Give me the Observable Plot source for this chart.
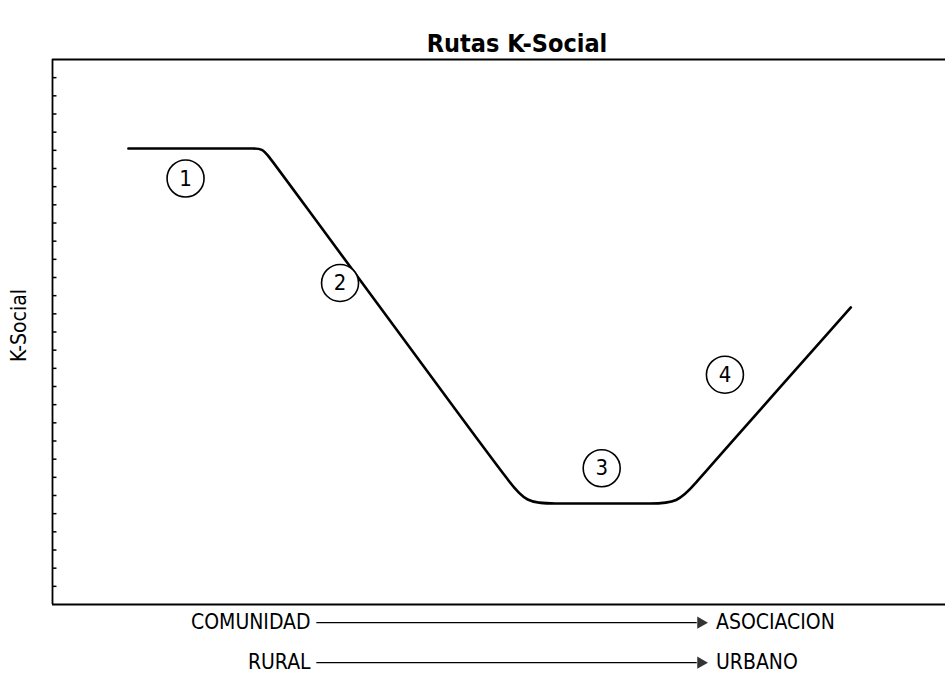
<!DOCTYPE html>
<html>
<head>
<meta charset="utf-8">
<script src="https://cdn.jsdelivr.net/npm/d3@7"></script>
<script src="https://cdn.jsdelivr.net/npm/@observablehq/plot@0.6"></script>
<style>
  html, body { margin: 0; padding: 0; background: #fff; }
  #chart svg { display: block; }
</style>
</head>
<body>
<div id="chart"></div>
<script>
// ---- data ----
const title = "Rutas K-Social";
const yLabel = "K-Social";
// control points of the K-Social route (x: 0–100 along the axis, y: 0–30 K-Social units)
const routeX = [8.5, 21.3, 22.4, 23.5, 24.2, 24.9, 48.9, 51.0, 53.0, 56.3, 59.7, 63.7, 66.9, 70.0, 72.1, 74.1, 89.4];
const routeY = [25.1, 25.1, 25.1, 25.1, 24.67, 24.23, 8.2, 6.88, 5.56, 5.56, 5.56, 5.56, 5.56, 5.56, 6.72, 7.87, 16.35];
// numbered stages
const stageLabels = ["1", "2", "3", "4"];
const stageX = [14.9, 32.2, 61.5, 75.3];
const stageY = [23.45, 17.7, 7.5, 12.65];
// y tick positions (unlabelled)
const yTicks = d3.range(1, 30);
// bottom arrow rows
const fromLabels = ["COMUNIDAD", "RURAL"];
const toLabels = ["ASOCIACION", "URBANO"];
const rowY = [-1.0, -3.2];

// ---- layout constants ----
const FONT = "'Liberation Sans Narrow', 'DejaVu Sans Condensed', 'Roboto Condensed', sans-serif";
const shaftStart = 29.6, shaftEnd = 72.2, headX = 72.6, fromX = 28.9, toX = 74.3, tickLen = 0.5;
const yLabelX = -3.7, yLabelY = 15.36;

const route = routeX.map((x, i) => ({x, y: routeY[i]}));
const stages = stageLabels.map((label, i) => ({label, x: stageX[i], y: stageY[i]}));
const rows = fromLabels.map((from, i) => ({from, to: toLabels[i], y: rowY[i]}));

const chart = Plot.plot({
  width: 945,
  height: 677,
  marginTop: 59,
  marginLeft: 52,
  marginRight: 0,
  marginBottom: 73,
  style: {fontFamily: FONT, background: "white"},
  x: {domain: [0, 100], axis: null},
  y: {domain: [0, 30], axis: null},
  marks: [
    // frame: top, bottom, left
    Plot.ruleY([30], {stroke: "black", strokeWidth: 1.8}),
    Plot.ruleY([0], {stroke: "black", strokeWidth: 1.8}),
    Plot.ruleX([0], {stroke: "black", strokeWidth: 1.8}),
    // inward ticks
    Plot.ruleY(yTicks, {x1: () => 0, x2: () => tickLen, stroke: "black", strokeWidth: 1.5}),
    // y label
    Plot.text([yLabel], {x: () => yLabelX, y: () => yLabelY, rotate: -90, fontSize: 21, fill: "black"}),
    // title
    Plot.text([title], {frameAnchor: "top", dx: 18, dy: -25, fontSize: 25, fontWeight: "bold", fill: "black"}),
    // route
    Plot.line(route, {x: "x", y: "y", curve: "basis", stroke: "black", strokeWidth: 2.6, strokeLinejoin: "round"}),
    // stage markers
    Plot.dot(stages, {x: "x", y: "y", r: 18.5, stroke: "black", strokeWidth: 1.6, fill: "white"}),
    Plot.text(stages, {x: "x", y: "y", text: "label", fontSize: 22, fill: "black"}),
    // bottom arrows
    Plot.ruleY(rows, {y: "y", x1: () => shaftStart, x2: () => shaftEnd, stroke: "black", strokeWidth: 1.3}),
    Plot.dot(rows, {x: () => headX, y: "y", symbol: "triangle", r: 4.6, rotate: 90, fill: "#333", stroke: "none"}),
    Plot.text(rows, {x: () => fromX, y: "y", text: "from", textAnchor: "end", fontSize: 21, fill: "black"}),
    Plot.text(rows, {x: () => toX, y: "y", text: "to", textAnchor: "start", fontSize: 21, fill: "black"})
  ]
});
document.getElementById("chart").append(chart);
</script>
</body>
</html>
